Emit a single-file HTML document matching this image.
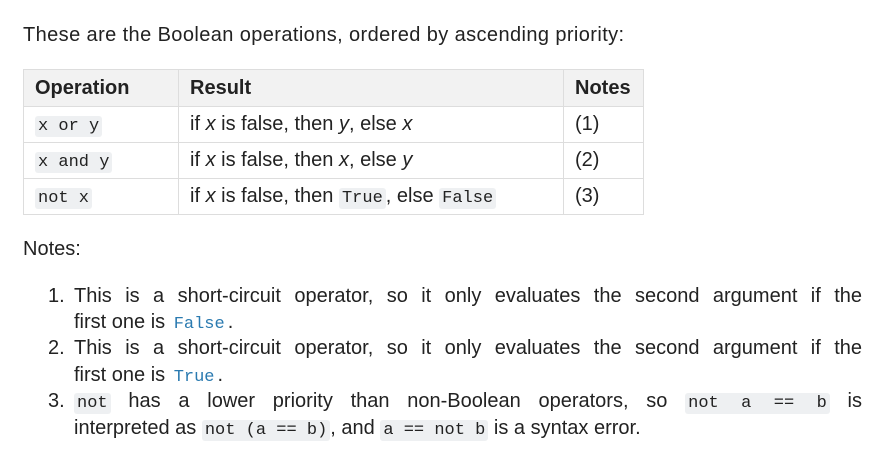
<!DOCTYPE html>
<html><head><meta charset="utf-8"><style>
body{margin:0;background:#fff;width:881px;height:475px;overflow:hidden;font-family:"Liberation Sans",sans-serif;color:#222;font-size:20px}
.t{position:absolute;white-space:nowrap}
code{font-family:"Liberation Mono",monospace;font-size:17px;background:#eef0f2;padding:1px 3px;border-radius:3px}
code.b{color:#2a7ab0;background:none}
table{position:absolute;left:23px;top:69px;border-collapse:collapse}
td,th{border:1px solid #ddd;height:35px;padding:0 0 0 11px;text-align:left;font-size:20px}
th{background:#f2f2f2;font-weight:bold;height:36px}
.j{position:absolute;left:74px;width:788px;text-align:justify;text-align-last:justify;white-space:nowrap}
</style></head><body>
<div class="t" style="left:23px;top:24px;letter-spacing:0.4px">These are the Boolean operations, ordered by ascending priority:</div>
<table>
<tr><th style="width:143px">Operation</th><th style="width:373px">Result</th><th style="width:68px">Notes</th></tr>
<tr><td><code>x or y</code></td><td>if <i>x</i> is false, then <i>y</i>, else <i>x</i></td><td>(1)</td></tr>
<tr><td><code>x and y</code></td><td>if <i>x</i> is false, then <i>x</i>, else <i>y</i></td><td>(2)</td></tr>
<tr><td><code>not x</code></td><td>if <i>x</i> is false, then <code>True</code>, else <code>False</code></td><td>(3)</td></tr>
</table>
<div class="t" style="left:23px;top:238px">Notes:</div>
<div class="t" style="left:48px;top:285px">1.</div>
<div class="j" style="top:285px;white-space:normal">This is a short-circuit operator, so it only evaluates the second argument if the</div>
<div class="t" style="left:74px;top:311px">first one is <code class="b">False</code>.</div>
<div class="t" style="left:48px;top:337px">2.</div>
<div class="j" style="top:337px;white-space:normal">This is a short-circuit operator, so it only evaluates the second argument if the</div>
<div class="t" style="left:74px;top:364px">first one is <code class="b">True</code>.</div>
<div class="t" style="left:48px;top:390px">3.</div>
<div class="j" style="top:390px;white-space:normal"><code>not</code> has a lower priority than non-Boolean operators, so <code>not a == b</code> is</div>
<div class="t" style="left:74px;top:417px">interpreted as <code>not (a == b)</code>, and <code>a == not b</code> is a syntax error.</div>
</body></html>
